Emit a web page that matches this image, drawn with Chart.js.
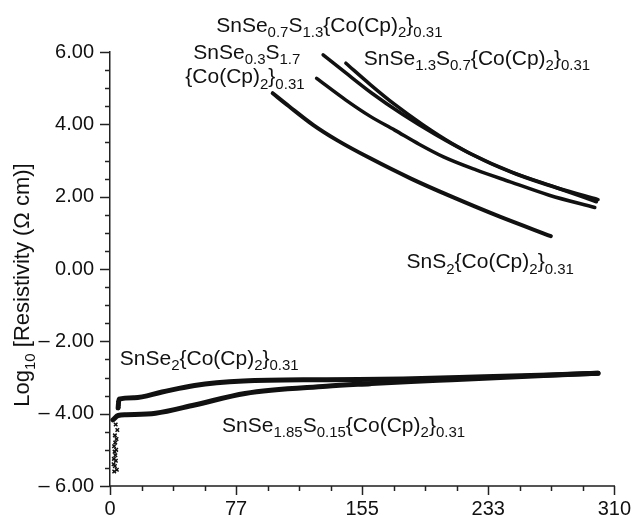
<!DOCTYPE html>
<html>
<head>
<meta charset="utf-8">
<script src="https://cdn.jsdelivr.net/npm/chart.js@4.4.1/dist/chart.umd.min.js"></script>
<style>
  html,body{margin:0;padding:0;background:#fff;}
  #wrap{width:642px;height:518px;}
</style>
</head>
<body>
<div id="wrap"><canvas id="chart" width="642" height="518"></canvas></div>
<script>
// ====== DATA ======
const xMajorTicks = [0, 77.5, 155, 232.5, 310];
const xTickLabels = ['0', '77', '155', '233', '310'];
const xMinorStep = 19.375;
const yMajorTicks = [-6, -4, -2, 0, 2, 4, 6];
const yTickLabels = ['\u2013 6.00', '\u2013 4.00', '\u2013 2.00', '0.00', '2.00', '4.00', '6.00'];
const yMinorStep = 0.5;

// temperature / log10 resistivity, one pair of arrays per sample
const sns2T = [100, 110, 125, 140, 160, 185, 210, 240, 271];
const sns2R = [4.86, 4.50, 3.98, 3.55, 3.06, 2.50, 2.00, 1.44, 0.91];

const se03T = [127, 145, 160, 175, 190, 205, 225, 246, 270, 298];
const se03R = [5.27, 4.67, 4.22, 3.84, 3.45, 3.10, 2.74, 2.41, 2.04, 1.70];

const se07T = [131, 145, 161, 180, 200, 222, 247, 275, 299];
const se07R = [5.92, 5.42, 4.86, 4.27, 3.72, 3.18, 2.68, 2.24, 1.86];

const se13T = [145, 160, 175, 192, 210, 230, 250, 275, 300];
const se13R = [5.69, 5.10, 4.55, 4.00, 3.48, 3.00, 2.62, 2.24, 1.92];

const se2T = [5, 5.5, 15, 32, 52, 82, 133, 180, 230, 270, 300];
const se2R = [-3.84, -3.60, -3.56, -3.40, -3.22, -3.10, -3.06, -3.04, -2.98, -2.93, -2.88];

const se185T = [1.8, 5, 10, 28, 52, 83, 133, 160, 185, 210, 240, 270, 300];
const se185R = [-4.17, -4.05, -4.03, -3.99, -3.76, -3.44, -3.24, -3.17, -3.11, -3.06, -3.00, -2.94, -2.88];

// low temperature scatter near the axis
const scatterT = [3.5, 4.5, 3.0, 4.0, 3.2, 2.5, 3.8, 2.8, 3.3, 2.4, 3.6, 2.2, 3.0, 4.2, 2.6, 5.0, 5.2];
const scatterR = [-4.30, -4.45, -4.60, -4.70, -4.80, -4.90, -5.00, -5.05, -5.15, -5.25, -5.30, -5.40, -5.45, -5.55, -5.60, -3.70, -3.80];

// ====== LAYOUT ======
const FONT = "'Liberation Sans', Arial, Helvetica, sans-serif";
const INK = '#111';
const NOTE_SIZE = 21;
const TITLE_SIZE = 22;
const notes = [
  { text: 'SnSe~0.7~S~1.3~{Co(Cp)~2~}~0.31~', x: 65.3, y: 6.55 },
  { text: 'SnSe~0.3~S~1.7~', x: 51.2, y: 5.80 },
  { text: '{Co(Cp)~2~}~0.31~', x: 46.3, y: 5.13 },
  { text: 'SnSe~1.3~S~0.7~{Co(Cp)~2~}~0.31~', x: 156, y: 5.64 },
  { text: 'SnS~2~{Co(Cp)~2~}~0.31~', x: 182.3, y: 0.02 },
  { text: 'SnSe~2~{Co(Cp)~2~}~0.31~', x: 6, y: -2.65 },
  { text: 'SnSe~1.85~S~0.15~{Co(Cp)~2~}~0.31~', x: 68.9, y: -4.5 },
];
const yTitle = 'Log~10~ [Resistivity (\u03A9 cm)]';

// ====== HELPERS ======
const pts = (xs, ys) => xs.map((v, i) => ({ x: v, y: ys[i] }));
const line = (xs, ys, w) => ({
  data: pts(xs, ys), showLine: true, pointRadius: 0, borderColor: INK,
  borderWidth: w, cubicInterpolationMode: 'monotone', borderCapStyle: 'round'
});

// text with ~sub~ segments, returns width
function richText(ctx, str, x, y, size, measureOnly){
  const parts = str.split('~');
  let cx = x;
  parts.forEach((p, i) => {
    if(!p) return;
    const sub = i % 2 === 1;
    ctx.font = `${sub ? Math.round(size * 0.7) : size}px ${FONT}`;
    if(!measureOnly) ctx.fillText(p, cx, y + (sub ? size * 0.25 : 0));
    cx += ctx.measureText(p).width;
  });
  return cx - x;
}

const decor = {
  id: 'decor',
  afterDraw(chart){
    const { ctx, chartArea: a, scales: { x, y } } = chart;
    ctx.save();
    ctx.strokeStyle = '#222';
    ctx.lineWidth = 1.5;
    // x ticks
    for(let v = 0; v <= 310 + 1e-6; v += xMinorStep){
      const px = Math.round(x.getPixelForValue(v)) + 0.5;
      const major = xMajorTicks.some(m => Math.abs(m - v) < 1e-6);
      ctx.beginPath(); ctx.moveTo(px, a.bottom); ctx.lineTo(px, a.bottom + (major ? 9 : 5)); ctx.stroke();
    }
    // y ticks
    for(let v = -6; v <= 6 + 1e-6; v += yMinorStep){
      const py = Math.round(y.getPixelForValue(v)) + 0.5;
      const major = yMajorTicks.some(m => Math.abs(m - v) < 1e-6);
      ctx.beginPath(); ctx.moveTo(a.left, py); ctx.lineTo(a.left - (major ? 10 : 5), py); ctx.stroke();
    }
    // annotations
    ctx.fillStyle = INK;
    ctx.textBaseline = 'alphabetic';
    ctx.textAlign = 'left';
    notes.forEach(n => richText(ctx, n.text, x.getPixelForValue(n.x), y.getPixelForValue(n.y), NOTE_SIZE));
    // y title
    const w = richText(ctx, yTitle, 0, 0, TITLE_SIZE, true);
    ctx.translate(29, (a.top + a.bottom) / 2 + 16);
    ctx.rotate(-Math.PI / 2);
    richText(ctx, yTitle, -w / 2, 0, TITLE_SIZE);
    ctx.restore();
  }
};

// ====== CHART ======
new Chart(document.getElementById('chart'), {
  type: 'scatter',
  data: {
    datasets: [
      line(sns2T, sns2R, 4),
      line(se03T, se03R, 3.5),
      line(se07T, se07R, 3.5),
      line(se13T, se13R, 3.5),
      line(se2T, se2R, 5),
      line(se185T, se185R, 5),
      { data: pts(scatterT, scatterR), showLine: false, pointStyle: 'crossRot',
        pointRadius: 2.5, borderColor: INK, borderWidth: 1.5 }
    ]
  },
  options: {
    responsive: false,
    animation: false,
    devicePixelRatio: 1,
    layout: { padding: { top: 52, right: 19, left: 0, bottom: 0 } },
    plugins: { legend: { display: false }, tooltip: { enabled: false } },
    scales: {
      x: {
        type: 'linear', min: 0, max: 310,
        afterFit(s){ s.height = 32; },
        afterBuildTicks(s){ s.ticks = xMajorTicks.map(v => ({ value: v })); },
        ticks: { callback: (v, i) => xTickLabels[i], autoSkip: false, maxRotation: 0,
                 padding: 11, color: INK, font: { family: FONT, size: 20 } },
        grid: { drawOnChartArea: false, drawTicks: false },
        border: { display: true, color: '#555', width: 2 }
      },
      y: {
        type: 'linear', min: -6, max: 6,
        afterFit(s){ s.width = 110; },
        afterBuildTicks(s){ s.ticks = yMajorTicks.map(v => ({ value: v })); },
        ticks: { callback: (v, i) => yTickLabels[i], autoSkip: false,
                 padding: 16, color: INK, font: { family: FONT, size: 20 } },
        grid: { drawOnChartArea: false, drawTicks: false },
        border: { display: true, color: '#222', width: 1.5 }
      }
    }
  },
  plugins: [decor]
});
</script>
</body>
</html>
